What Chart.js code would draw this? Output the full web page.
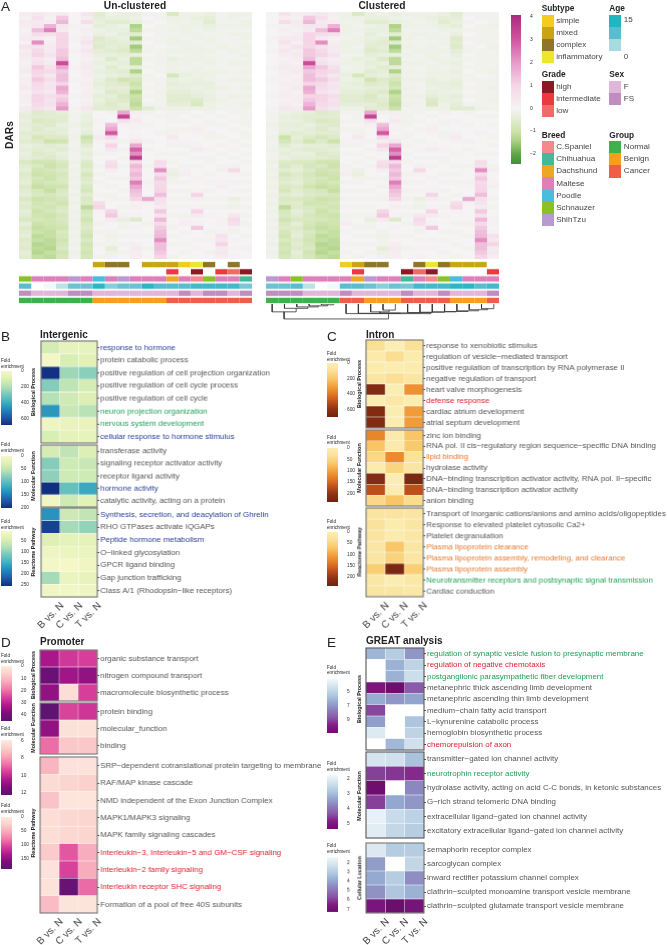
<!DOCTYPE html>
<html>
<head>
<meta charset="utf-8">
<title>DARs</title>
<script src="https://cdn.jsdelivr.net/npm/chart.js@4"></script>
<style>
html,body{margin:0;padding:0;background:#fff;}
#page{position:relative;width:667px;height:945px;overflow:hidden;font-family:"Liberation Sans",Arial,sans-serif;color:#222;filter:blur(0.3px);}
#page canvas{position:absolute;}
.txt{position:absolute;white-space:nowrap;line-height:1;}
.sw{position:absolute;}
</style>
</head>
<body>
<div id="page"></div>
<script>
// values are in tenths of a z-score, one row per DAR band, one column per sample
const darRows = [
[2,4,2,3,0,5,-5,-2,-3,-3,-1,-1,-7,-2,-2,-3,-1,-2,-2],
[1,6,1,12,0,2,-4,-3,-3,-2,0,-1,-2,-2,-3,-4,-1,-2,-1],
[3,3,2,15,0,7,-3,-5,-5,-3,-1,0,-2,-1,-2,-5,-1,-1,-2],
[2,4,16,4,1,1,-4,-3,-2,-14,0,-1,-1,-2,-2,-3,-2,-2,-2],
[1,14,24,3,0,2,-2,-3,-3,-12,-1,-1,-2,-2,-1,-2,-1,-1,-1],
[2,7,6,10,0,1,-3,-2,-4,-5,0,-1,-1,-2,-2,-1,-1,-2,-2],
[3,3,1,10,1,3,-6,-4,-3,-15,-1,-1,-2,-1,-2,-2,-1,-1,-2],
[1,22,2,10,0,5,-5,-5,-4,-5,0,-1,-2,-2,-1,-2,-1,-1,-1],
[5,5,3,10,0,2,-6,-4,-5,-15,-1,0,-1,-2,-2,-1,-2,-1,-2],
[2,8,3,12,1,4,-4,-5,-6,-12,-1,-1,-2,-2,-2,-2,-1,-2,-1],
[3,10,5,12,0,2,-3,-3,-4,-3,0,-1,-1,-1,-2,-1,-1,-1,-2],
[2,4,2,14,0,1,-2,-6,-3,-12,-1,-1,-3,-2,-2,-2,-1,-1,-1],
[1,6,3,32,0,2,-3,-3,-4,-12,0,-1,-2,-2,-1,-2,-1,-2,-2],
[2,12,6,18,1,3,-2,-5,-3,-4,-1,-1,-2,-1,-2,-1,-1,-1,-1],
[3,10,8,12,0,2,-3,-4,-5,-14,0,-1,-2,-2,-2,-2,-2,-1,-2],
[1,8,4,14,0,2,-2,-3,-4,-6,-1,0,-8,-3,-2,-2,-1,-1,-1],
[2,12,7,14,1,1,-3,-6,-9,-8,-1,-1,-3,-2,-3,-2,-1,-2,-2],
[2,8,4,10,0,2,-4,-5,-6,-10,0,-1,-4,-3,-3,-3,-1,-1,-1],
[3,7,5,18,0,1,-3,-4,-4,-8,-1,-1,-3,-3,-2,-3,-2,-1,-2],
[1,5,3,16,0,2,-2,-6,-5,-14,0,-1,-4,-4,-3,-2,-1,-1,-1],
[2,10,7,10,1,2,-4,-4,-7,-10,-1,-1,-5,-5,-4,-3,-1,-2,-2],
[2,10,5,12,0,1,-3,-5,-6,-11,0,-1,-5,-5,-6,-3,-2,-1,-1],
[1,8,6,16,0,2,-4,-6,-4,-12,-1,-1,-4,-4,-7,-2,-1,-1,-2],
[3,6,4,20,1,4,-5,-5,-5,-10,-5,-2,-2,-2,-2,-2,-1,-1,-1],
[-3,-6,-5,-4,-1,-2,0,-1,18,2,-1,0,-1,-1,0,-1,0,-1,-1],
[-4,-5,-5,-5,-1,-3,0,0,34,1,0,-1,-1,0,-1,0,-1,0,-1],
[-3,-7,-6,-5,-1,-3,1,0,6,3,0,0,-1,-1,0,-1,0,-1,-1],
[-4,-5,-6,-3,-2,-4,0,14,1,1,-1,0,0,0,1,-1,-1,0,-1],
[-3,-6,-4,-4,-1,-3,0,18,0,1,0,0,-1,-1,2,0,0,-1,0],
[-5,-5,-5,-4,-1,-4,1,30,0,0,0,-1,-1,0,1,-1,0,0,-1],
[-4,-8,-6,-6,-2,-10,3,8,0,1,0,0,3,0,0,-1,-1,0,-1],
[-5,-6,-10,-9,-1,-8,1,2,-1,4,-1,0,1,1,0,0,0,-1,0],
[-3,-4,-5,-4,-1,-5,0,10,0,18,0,0,-1,-1,1,0,-1,0,-1],
[-4,-5,-4,-5,-2,-3,0,4,-1,28,-1,0,0,0,3,1,0,1,0],
[-3,-6,-5,-3,-1,-4,-1,1,0,22,0,-1,-1,-1,0,0,-1,0,-1],
[-4,-5,-6,-4,-1,-3,0,0,-1,36,0,0,0,0,-1,-1,0,-1,0],
[-7,-9,-9,-7,-2,-6,0,6,0,8,0,7,-1,0,0,-1,0,0,-1],
[-5,-7,-10,-8,-1,-7,-1,8,-1,15,-1,6,0,-1,-1,0,-1,-1,0],
[-4,-9,-8,-6,-2,-5,0,2,0,12,0,22,-2,1,0,0,2,8,0],
[-6,-10,-9,-8,-1,-8,-1,0,0,15,0,7,-3,2,0,-1,0,1,-1],
[-5,-8,-10,-7,-2,-6,0,-1,-1,12,0,12,-1,0,1,0,0,0,0],
[-4,-9,-8,-7,-1,-5,-1,0,0,24,-1,8,-1,-1,0,-1,1,-1,-1],
[-6,-11,-10,-9,-2,-7,0,-1,0,18,0,9,0,0,0,0,2,0,0],
[-5,-8,-11,-7,-1,-8,0,0,-1,14,0,10,-1,-1,1,-1,0,1,-1],
[-4,-7,-8,-6,-2,-5,-1,-1,0,12,0,14,0,0,10,0,0,0,0],
[-7,-10,-9,-8,-1,-7,0,-1,-1,10,18,6,-1,-1,2,-1,-1,-3,-1],
[-5,-9,-8,-9,-2,-6,7,0,0,1,1,5,0,0,0,0,0,-1,0],
[-6,-8,-9,-7,-1,-12,10,0,-1,2,0,3,-1,1,1,-1,-1,-2,-1],
[-4,-10,-8,-6,-2,-8,1,10,0,0,0,12,0,0,10,0,0,0,0],
[-5,-9,-10,-8,-1,-7,0,12,-1,1,0,5,-1,-1,3,1,0,4,-1],
[-7,-8,-9,-7,-2,-9,0,3,-3,-6,0,15,0,1,0,0,1,8,0],
[-4,-10,-9,-8,-1,-7,-1,0,-1,0,-1,8,0,2,1,0,1,6,-1],
[-6,-11,-10,-9,-2,-6,0,0,-1,1,0,12,-1,0,12,0,0,1,0],
[-5,-10,-11,-7,-1,-8,-1,-1,0,0,0,14,0,1,0,-1,1,-1,0],
[-4,-12,-11,-8,-2,-9,0,-2,-1,1,-1,15,-1,0,0,0,6,0,-1],
[-6,-11,-12,-9,-1,-7,0,-1,0,0,0,22,0,0,1,1,4,1,0],
[-5,-13,-12,-8,-2,-9,-1,-1,-1,2,0,14,-1,1,0,0,10,0,0],
[-6,-12,-13,-7,-1,-8,0,-4,0,3,-1,14,0,0,1,0,3,1,-1],
[-4,-13,-11,-9,-2,-9,0,-2,-1,2,0,12,0,-1,0,-1,4,0,0],
[-5,-11,-12,-8,-1,-8,-1,-1,0,2,0,10,-1,0,0,0,2,1,0]
];
const clusterOrder = [4,5,0,3,1,2,13,12,8,7,9,18,17,14,15,6,10,11,16];

// sample annotations, in un-clustered column order
const subtypeTrack = [null,null,null,null,null,null,'mixed','complex','complex',null,'mixed','mixed','mixed','simple','inflammatory','complex',null,'complex',null];
const gradeTrack = [null,null,null,null,null,null,null,null,null,null,null,null,'intermediate',null,'high',null,'intermediate','low','high'];
const breedTrack = ['Schnauzer','Maltese','Maltese','Maltese','ShihTzu','Maltese','Poodle','Maltese','ShihTzu','Maltese','Maltese','Maltese','Dachshund','Maltese','C.Spaniel','Schnauzer','Maltese','Maltese','Chihuahua'];
const ageTrack = [10,0,1,4,9,9,14,7,9,9,14,10,10,10,12,12,12,12,8];
const sexTrack = ['FS','F','F','F','FS','FS','F','F','F','F','F','F','F','FS','F','FS','FS','F','FS'];
const groupTrack = ['Normal','Normal','Normal','Normal','Normal','Normal','Benign','Benign','Benign','Benign','Benign','Benign','Cancer','Cancer','Cancer','Cancer','Cancer','Cancer','Cancer'];

// dendrogram merges below the clustered map, x in columns, height grows downward
const mergeLeft =      [4.5,3.5,2.5,1.5,0.5,17.5,16.5,15.5,14.5,13.5,12.5,11.5,9.5,8.5,9.25,7.5,6.5,1.47];
const mergeRight =     [5.5,5,4.25,3.4,2.45,18.5,18,17.25,16.4,15.45,14.5,13.5,10.5,10,12.5,10.9,13.4,9.95];
const mergeLeftFrom =  [3,3,3,3,3,3,3,3,3,3,3,3,3,3,25,3,3,25];
const mergeRightFrom = [3,5,8,11,15,3,16,19,22,24,25,26,3,20,27,28,29,30];
const mergeHeight =    [5,8,11,15,25,16,19,22,24,25,26,27,20,25,28,29,30,45];

const compareLabels = ['B vs. N','C vs. N','T vs. N'];

// panel B
const bBioTerms = ['response to hormone','protein catabolic process','positive regulation of cell projection organization','positive regulation of cell cycle process','positive regulation of cell cycle','neuron projection organization','nervous system development','cellular response to hormone stimulus'];
const bBioColors = ['b','g','g','g','g','n','n','b'];
const bBioValues = [[120,60,60],[10,110,80],[670,230,260],[270,170,120],[190,130,100],[450,150,180],[30,50,50],[110,70,60]];
const bMolTerms = ['transferase activity','signaling receptor activator activity','receptor ligand activity','hormone activity','catalytic activity, acting on a protein'];
const bMolColors = ['g','g','g','b','g'];
const bMolValues = [[35,50,30],[80,40,45],[75,40,40],[200,95,120],[5,40,25]];
const bReaTerms = ['Synthesis, secretion, and deacylation of Ghrelin','RHO GTPases activate IQGAPs','Peptide hormone metabolism','O\u2212linked glycosylation','GPCR ligand binding','Gap junction trafficking','Class A/1 (Rhodopsin\u2212like receptors)'];
const bReaColors = ['b','g','b','g','g','g','g'];
const bReaValues = [[175,55,65],[240,85,95],[40,28,30],[15,18,22],[8,4,12],[85,22,25],[12,10,15]];

// panel C
const cBioTerms = ['response to xenobiotic stimulus','regulation of vesicle\u2212mediated transport','positive regulation of transcription by RNA polymerase II','negative regulation of transport','heart valve morphogenesis','defense response','cardiac atrium development','atrial septum development'];
const cBioColors = ['g','g','g','g','g','r','g','g'];
const cBioValues = [[100,5,90],[30,110,25],[25,15,25],[60,105,60],[640,10,340],[15,50,15],[640,15,310],[640,15,310]];
const cMolTerms = ['zinc ion binding','RNA pol. II cis\u2212regulatory region sequence\u2212specific DNA binding','lipid binding','hydrolase activity','DNA\u2212binding transcription activator activity, RNA pol. II\u2212specific','DNA\u2212binding transcription activator activity','anion binding'];
const cMolColors = ['g','g','o','g','g','g','g'];
const cMolValues = [[125,10,70],[70,10,65],[45,120,30],[8,50,20],[215,5,225],[170,5,170],[45,70,40]];
const cReaTerms = ['Transport of inorganic cations/anions and amino acids/oligopeptides','Response to elevated platelet cytosolic Ca2+','Platelet degranulation','Plasma lipoprotein clearance','Plasma lipoprotein assembly, remodeling, and clearance','Plasma lipoprotein assembly','Neurotransmitter receptors and postsynaptic signal transmission','Cardiac conduction'];
const cReaColors = ['g','g','g','o','o','o','n','g'];
const cReaValues = [[25,25,22],[30,8,20],[25,8,18],[20,70,20],[22,55,20],[60,230,60],[18,3,15],[20,20,15]];

// panel D
const dBioTerms = ['organic substance transport','nitrogen compound transport','macromolecule biosynthetic process'];
const dBioColors = ['g','g','g'];
const dBioValues = [[33,27,26],[42,34,36],[36,3,26]];
const dMolTerms = ['protein binding','molecular_function','binding'];
const dMolColors = ['g','g','g'];
const dMolValues = [[12.2,9.5,9.8],[11,6.2,6.2],[8.8,7,7]];
const dReaTerms = ['SRP\u2212dependent cotranslational protein targeting to membrane','RAF/MAP kinase cascade','NMD independent of the Exon Junction Complex','MAPK1/MAPK3 signaling','MAPK family signaling cascades','Interleukin\u22123, Interleukin\u22125 and GM\u2212CSF signaling','Interleukin\u22122 family signaling','Interleukin receptor SHC signaling','Formation of a pool of free 40S subunits'];
const dReaColors = ['g','g','g','g','g','r','r','r','g'];
const dReaValues = [[45,8,8],[15,20,25],[35,5,5],[12,18,20],[12,18,20],[30,95,50],[8,105,50],[7,175,85],[40,6,6]];

// panel E, null means the term was not enriched
const eBioTerms = ['regulation of synaptic vesicle fusion to presynaptic membrane','regulation of negative chemotaxis','postganglionic parasympathetic fiber development','metanephric thick ascending limb development','metanephric ascending thin limb development','medium\u2212chain fatty acid transport','L\u2212kynurenine catabolic process','hemoglobin biosynthetic process','chemorepulsion of axon'];
const eBioColors = ['n','r','n','g','g','g','g','g','r'];
const eBioValues = [[6.1,5.3,7],[null,6.2,5],[null,6.2,4.5],[10.2,10.9,8.6],[6.4,7,6.6],[9,null,null],[6.8,null,5.6],[3.9,null,5],[null,6,4.4]];
const eMolTerms = ['transmitter\u2212gated ion channel activity','neurotrophin receptor activity','hydrolase activity, acting on acid C-C bonds, in ketonic substances','G\u2212rich strand telomeric DNA binding','extracellular ligand\u2212gated ion channel activity','excitatory extracellular ligand\u2212gated ion channel activity'];
const eMolColors = ['g','n','g','g','g','g'];
const eMolValues = [[2.2,2.3,2.9],[4.5,4.6,4.7],[5.3,null,3.7],[4.5,3.3,3.5],[1.9,2.4,2.6],[2,2.5,2.7]];
const eCelTerms = ['semaphorin receptor complex','sarcoglycan complex','inward rectifier potassium channel complex','clathrin\u2212sculpted monoamine transport vesicle membrane','clathrin\u2212sculpted glutamate transport vesicle membrane'];
const eCelColors = ['g','g','g','g','g'];
const eCelValues = [[2,3,3],[4.2,null,2.7],[3.9,3,4.5],[4.4,3.2,3.7],[6.8,7.3,6.9]];

// colour ramps
const piyg = [[-2.45,'#3e8f37'],[-2,'#62a747'],[-1.4,'#afd388'],[-1,'#cde3ac'],[-0.3,'#eaf0e0'],[0,'#f5f3f3'],[1,'#f5d5e6'],[2,'#e79bca'],[3,'#d1559f'],[4.09,'#aa2a80']];
const ylgnbu = ['#f5f7c8','#dff0b4','#b5e0b6','#79c7bc','#41b0c2','#2188bb','#1f5aa6','#102f80'];
const ylorbr = ['#fbeeb4','#fae097','#f9c868','#f3a03c','#e37a22','#c0501a','#8f3015','#6e2311'];
const rdpu = ['#fdeadf','#fbd0cd','#f8a9bb','#ef78a9','#d8409a','#ae1a8c','#7f0c7c','#5a1570'];
const bupu = ['#f2f8fb','#d3e2ee','#b3cbe0','#94a9d0','#8c80bb','#8a57a8','#831c85','#6d0d6d'];

const subtypeColors = {simple:'#f5cb1f',mixed:'#c9a416',complex:'#8f7525',inflammatory:'#eee530'};
const gradeColors = {high:'#8b1a25',intermediate:'#ea3a3e',low:'#f06a6a'};
const breedColors = {'C.Spaniel':'#f4888a',Chihuahua:'#46b89a',Dachshund:'#eea724',Maltese:'#dd7fbb',Poodle:'#4abcdc',Schnauzer:'#8ac226',ShihTzu:'#b99ad0'};
const sexColors = {F:'#e2b6da',FS:'#c08dc0'};
const groupColors = {Normal:'#3fb04a',Benign:'#f59e1f',Cancer:'#ee5f4a'};
const ageRamp = [[0,'#ffffff'],[2,'#e0f2f4'],[5,'#a8dbe0'],[10,'#5abccf'],[15,'#21b5c1']];
const termColors = {g:'#555555',b:'#2a3f94',n:'#1f9e55',r:'#e0202f',o:'#e8772a'};

const FONT = '"Liberation Sans",Arial,sans-serif';
const page = document.getElementById('page');
Chart.defaults.font.family = FONT;
Chart.defaults.animation = false;
Chart.defaults.responsive = false;
Chart.defaults.plugins.legend.display = false;
Chart.defaults.plugins.tooltip.enabled = false;

function hexRgb(h){ return [1,3,5].map(i=>parseInt(h.substr(i,2),16)); }
function rampColor(stops,v){
  if(v<=stops[0][0]) return stops[0][1];
  for(let i=1;i<stops.length;i++){
    if(v<=stops[i][0]){
      const t=(v-stops[i-1][0])/(stops[i][0]-stops[i-1][0]);
      const a=hexRgb(stops[i-1][1]),b=hexRgb(stops[i][1]);
      return 'rgb('+a.map((c,k)=>Math.round(c+(b[k]-c)*t)).join(',')+')';
    }
  }
  return stops[stops.length-1][1];
}
function evenRamp(colors,min,max){ return colors.map((c,i)=>[min+(max-min)*i/(colors.length-1),c]); }

function addCanvas(x,y,w,h){
  const c=document.createElement('canvas');
  c.width=w; c.height=h;
  c.style.left=x+'px'; c.style.top=y+'px'; c.style.width=w+'px'; c.style.height=h+'px';
  page.appendChild(c);
  return c;
}
function text(str,x,y,size,opt){
  opt=opt||{};
  const d=document.createElement('div');
  d.className='txt';
  d.textContent=str;
  d.style.fontSize=size+'px';
  d.style.left=x+'px'; d.style.top=y+'px';
  if(opt.bold) d.style.fontWeight='bold';
  if(opt.color) d.style.color=opt.color;
  d.style.transform=(opt.center?'translate(-50%,-50%)':'translateY(-50%)')+(opt.rot?' rotate(-90deg)':'');
  page.appendChild(d);
}

const frame = {
  id:'frame',
  afterDatasetsDraw(chart,args,opts){
    if(!opts.color) return;
    const a=chart.chartArea,c=chart.ctx;
    c.save(); c.strokeStyle=opts.color; c.lineWidth=1;
    c.strokeRect(a.left,a.top,a.right-a.left,a.bottom-a.top);
    c.restore();
  }
};

// heatmap built as a stacked horizontal bar chart: one dataset per column
function heatmap(o){
  const padL=o.showX?30:1, labelW=o.labels?o.labelW:0, xH=o.showX?40:0;
  const cv=addCanvas(o.x-padL,o.y-1,padL+o.w+labelW+1,o.h+2+xH);
  const nCols=o.values[0].length;
  const colW=o.w/nCols;
  const rowLabels=o.labels||o.values.map((r,i)=>String(i));
  const datasets=[];
  for(let c=0;c<nCols;c++){
    datasets.push({
      data:o.values.map(()=>1),
      backgroundColor:o.values.map(r=>r[c]===null?'#ffffff':o.color(r[c])),
      borderWidth:o.gap?0.5:0,
      borderColor:'rgba(255,255,255,0.45)',
      borderSkipped:false,
      barPercentage:o.barPct||1,
      categoryPercentage:1
    });
  }
  return new Chart(cv,{
    type:'bar',
    data:{labels:rowLabels,datasets},
    plugins:[frame],
    options:{
      indexAxis:'y',
      layout:{padding:{left:padL,top:1,right:1,bottom:1}},
      plugins:{frame:{color:o.frame||null}},
      scales:{
        x:{
          type:'linear',stacked:true,min:0,max:nCols,
          display:!!o.showX,
          grid:{display:false},border:{display:false},
          // the rotated labels end to the right of their column centre
          afterBuildTicks:s=>{ s.ticks=compareLabels.map((l,i)=>({value:i+0.5+12/colW})); },
          afterFit:s=>{ s.height=xH; s.paddingLeft=0; s.paddingRight=0; },
          ticks:{autoSkip:false,minRotation:45,maxRotation:45,padding:-5,color:'#444',font:{size:10},
            callback:(v,i)=>compareLabels[i]}
        },
        y:{
          stacked:true,position:'right',
          display:!!o.labels,
          grid:{offset:false,drawOnChartArea:false,drawTicks:true,tickLength:2,color:'#555'},
          border:{display:false},
          afterFit:s=>{ s.width=labelW; s.paddingTop=0; s.paddingBottom=0; },
          ticks:{autoSkip:false,padding:1,font:{size:7.95},color:c=>o.labelColors?termColors[o.labelColors[c.index]]:'#555'}
        }
      }
    }
  });
}

// colour bar: one floating bar with a gradient, on a linear axis
function colorbar(o){
  const cv=addCanvas(o.x,o.y-4,o.w+24,o.h+8);
  new Chart(cv,{
    type:'bar',
    data:{labels:['bar'],datasets:[{
      data:[[o.min,o.max]],
      barPercentage:1,categoryPercentage:1,
      backgroundColor:c=>{
        const a=c.chart.chartArea;
        if(!a) return '#ccc';
        const g=c.chart.ctx.createLinearGradient(0,a.top,0,a.bottom);
        o.stops.forEach(s=>{
          const t=Math.min(1,Math.max(0,(s[0]-o.min)/(o.max-o.min)));
          g.addColorStop(o.up?1-t:t,s[1]);
        });
        return g;
      }
    }]},
    options:{
      layout:{padding:{top:4,bottom:4}},
      scales:{
        x:{display:false},
        y:{
          reverse:!o.up,min:o.min,max:o.max,position:'right',
          grid:{display:false},border:{display:false},
          afterBuildTicks:s=>{ s.ticks=o.ticks.map(v=>({value:v})); },
          afterFit:s=>{ s.width=24; s.paddingTop=0; s.paddingBottom=0; },
          ticks:{autoSkip:false,padding:1,color:o.tickColor||'#333',font:{size:o.font||4.8},callback:v=>String(v).replace('-','\u2212')}
        }
      }
    }
  });
}
function foldBar(x,y1,y2,min,max,ticks,colors,ty){
  text('Fold',x,ty,4.6);
  text('enrichment',x,ty+5.5,4.6);
  colorbar({x:x,y:y1,w:11,h:y2-y1,min,max,ticks,stops:evenRamp(colors,min,max)});
}

// top heatmaps
function mainHeat(x,order){
  heatmap({x,y:12,w:233.3,h:246.7,values:darRows.map(r=>order.map(i=>r[i])),
    color:v=>rampColor(piyg,v/10)});
}
const identityOrder = darRows[0].map((v,i)=>i);
mainHeat(19,identityOrder);
mainHeat(266,clusterOrder);

function tracks(x,order){
  const pick=(arr,f)=>order.map(i=>arr[i]===null?null:f(arr[i]));
  const rows=[
    pick(subtypeTrack,v=>subtypeColors[v]),
    pick(gradeTrack,v=>gradeColors[v]),
    pick(breedTrack,v=>breedColors[v]),
    pick(ageTrack,v=>rampColor(ageRamp,v)),
    pick(sexTrack,v=>sexColors[v]),
    pick(groupTrack,v=>groupColors[v])
  ];
  heatmap({x,y:260.8,w:233.3,h:42.8,values:rows,color:c=>c,barPct:0.75});
}
tracks(19,identityOrder);
tracks(266,clusterOrder);

// dendrogram under the clustered map
new Chart(addCanvas(266,303,234,17),{
  type:'scatter',
  data:{datasets:mergeHeight.map((h,i)=>({
    showLine:true,pointRadius:0,borderColor:'#333',borderWidth:0.8,
    data:[{x:mergeLeft[i],y:mergeLeftFrom[i]},{x:mergeLeft[i],y:h},{x:mergeRight[i],y:h},{x:mergeRight[i],y:mergeRightFrom[i]}]
  }))},
  options:{
    layout:{padding:0},
    scales:{x:{display:false,min:0,max:19},y:{display:false,reverse:true,min:0,max:48}}
  }
});

text('Un-clustered',135,5.5,10.2,{bold:true,center:true});
text('Clustered',382,5.5,10.2,{bold:true,center:true});
text('DARs',10,135,10.2,{bold:true,center:true,rot:true});
text('A',1,7,13.5);

// main colour bar
colorbar({x:511,y:14.7,w:10,h:149.6,min:-2.45,max:4.09,ticks:[4,3,2,1,0,-1,-2],stops:piyg,font:5,up:true});

// legends
function swatchList(x,y0,step,items,colors,head,headY){
  text(head,x,headY,8.3,{bold:true});
  items.forEach((it,i)=>{
    const d=document.createElement('div');
    d.className='sw';
    d.style.cssText='left:'+x+'px;top:'+(y0+i*step)+'px;width:12px;height:'+(step+0.3)+'px;background:'+colors[it];
    page.appendChild(d);
    text(it,x+14.5,y0+i*step+step/2,8.1,{color:'#444'});
  });
}
swatchList(541.7,14.7,12.1,Object.keys(subtypeColors),subtypeColors,'Subtype',8.3);
swatchList(541.7,81,12,Object.keys(gradeColors),gradeColors,'Grade',74.3);
swatchList(541.7,141,12.15,Object.keys(breedColors),breedColors,'Breed',134.7);
swatchList(609.3,81,12,Object.keys(sexColors),sexColors,'Sex',74.3);
swatchList(609.3,141,12.15,Object.keys(groupColors),groupColors,'Group',134.7);
text('Age',609.3,8.3,8.3,{bold:true});
['#21b5c1','#5abccf','#a8dbe0'].forEach((c,i)=>{
  const d=document.createElement('div');
  d.className='sw';
  d.style.cssText='left:609.3px;top:'+(14.7+i*12.1)+'px;width:12px;height:12.4px;background:'+c;
  page.appendChild(d);
});
text('15',623.7,20.3,8.1,{color:'#444'});
text('0',623.7,56.7,8.1,{color:'#444'});

// panel B
text('B',1,336.7,13.5);
text('Intergenic',40,335,10,{bold:true});
const bRamp1=evenRamp(ylgnbu,0,676), bRamp2=evenRamp(ylgnbu,0,200), bRamp3=evenRamp(ylgnbu,4,256);
heatmap({x:41,y:341,w:56.7,h:101.7,values:bBioValues,labels:bBioTerms,labelColors:bBioColors,labelW:200,gap:true,frame:'#666',color:v=>rampColor(bRamp1,v)});
heatmap({x:41,y:445,w:56.7,h:61.7,values:bMolValues,labels:bMolTerms,labelColors:bMolColors,labelW:200,gap:true,frame:'#666',color:v=>rampColor(bRamp2,v)});
heatmap({x:41,y:508,w:56.7,h:89,values:bReaValues,labels:bReaTerms,labelColors:bReaColors,labelW:200,gap:true,frame:'#666',showX:true,color:v=>rampColor(bRamp3,v)});
foldBar(1,371,425,0,676,[0,200,400,600],ylgnbu,361);
foldBar(1,455.7,508,0,200,[0,50,100,150,200],ylgnbu,445);
foldBar(1,531,586,4,256,[50,100,150,200,250],ylgnbu,522);
text('Biological Process',34,392,5.4,{bold:true,center:true,rot:true});
text('Molecular Function',34,475.7,5.4,{bold:true,center:true,rot:true});
text('Reactome Pathway',34,552,5.4,{bold:true,center:true,rot:true});

// panel C
text('C',327,336.7,13.5);
text('Intron',366,335,10,{bold:true});
const cRamp1=evenRamp(ylorbr,0,700), cRamp2=evenRamp(ylorbr,0,237), cRamp3=evenRamp(ylorbr,0,243);
heatmap({x:366,y:340.3,w:57.7,h:88,values:cBioValues,labels:cBioTerms,labelColors:cBioColors,labelW:242,gap:true,frame:'#666',color:v=>rampColor(cRamp1,v)});
heatmap({x:366,y:430.3,w:57.7,h:76,values:cMolValues,labels:cMolTerms,labelColors:cMolColors,labelW:242,gap:true,frame:'#666',color:v=>rampColor(cRamp2,v)});
heatmap({x:366,y:508,w:57.7,h:88.7,values:cReaValues,labels:cReaTerms,labelColors:cReaColors,labelW:242,gap:true,frame:'#666',showX:true,color:v=>rampColor(cRamp3,v)});
foldBar(327,363,417,0,700,[0,200,400,600],ylorbr,354);
foldBar(327,447.7,501.7,0,237,[0,50,100,150,200],ylorbr,437.7);
foldBar(327,531.7,585.7,0,243,[0,50,100,150,200],ylorbr,522);
text('Biological Process',360,384,5.4,{bold:true,center:true,rot:true});
text('Molecular Function',360,468,5.4,{bold:true,center:true,rot:true});
text('Reactome Pathway',360,552,5.4,{bold:true,center:true,rot:true});

// panel D
text('D',1,643,13.5);
text('Promoter',40,641.7,10,{bold:true});
const dRamp1=evenRamp(rdpu,0,45), dRamp2=evenRamp(rdpu,5.9,12.3), dRamp3=evenRamp(rdpu,0,185);
heatmap({x:40.3,y:650,w:57.4,h:51.3,values:dBioValues,labels:dBioTerms,labelColors:dBioColors,labelW:235,gap:true,frame:'#666',color:v=>rampColor(dRamp1,v)});
heatmap({x:40.3,y:703,w:57.4,h:51.3,values:dMolValues,labels:dMolTerms,labelColors:dMolColors,labelW:235,gap:true,frame:'#666',color:v=>rampColor(dRamp2,v)});
heatmap({x:40.3,y:756.7,w:57.4,h:156.3,values:dReaValues,labels:dReaTerms,labelColors:dReaColors,labelW:235,gap:true,frame:'#666',showX:true,color:v=>rampColor(dRamp3,v)});
foldBar(1,665.7,721,0,45,[0,10,20,30,40],rdpu,656);
foldBar(1,740,795,5.9,12.3,[6,8,10,12],rdpu,729);
foldBar(1,816.7,869,0,185,[0,50,100,150],rdpu,806);
text('Biological Process',34,675,5.4,{bold:true,center:true,rot:true});
text('Molecular Function',34,728,5.4,{bold:true,center:true,rot:true});
text('Reactome Pathway',34,833,5.4,{bold:true,center:true,rot:true});

// panel E
text('E',327,643,13.5);
text('GREAT analysis',366,641,10,{bold:true});
const eRamp1=evenRamp(bupu,3.2,10.9), eRamp2=evenRamp(bupu,1.73,5.33), eRamp3=evenRamp(bupu,1.4,7.3);
heatmap({x:366,y:648,w:58.3,h:102.3,values:eBioValues,labels:eBioTerms,labelColors:eBioColors,labelW:242,gap:true,frame:'#444',color:v=>rampColor(eRamp1,v)});
heatmap({x:366,y:752.3,w:58.3,h:86,values:eMolValues,labels:eMolTerms,labelColors:eMolColors,labelW:242,gap:true,frame:'#444',color:v=>rampColor(eRamp2,v)});
heatmap({x:366,y:843,w:58.3,h:70.3,values:eCelValues,labels:eCelTerms,labelColors:eCelColors,labelW:242,gap:true,frame:'#666',showX:true,color:v=>rampColor(eRamp3,v)});
foldBar(327,679,733,3.2,10.9,[5,7,9],bupu,667.7);
foldBar(327,775,829,1.73,5.33,[2,3,4,5],bupu,764);
foldBar(327,857,911.7,1.4,7.3,[2,3,4,5,6,7],bupu,846);
text('Biological Process',360,699,5.4,{bold:true,center:true,rot:true});
text('Molecular Function',360,795.7,5.4,{bold:true,center:true,rot:true});
text('Cellular Location',360,878,5.4,{bold:true,center:true,rot:true});
</script>
</body>
</html>
